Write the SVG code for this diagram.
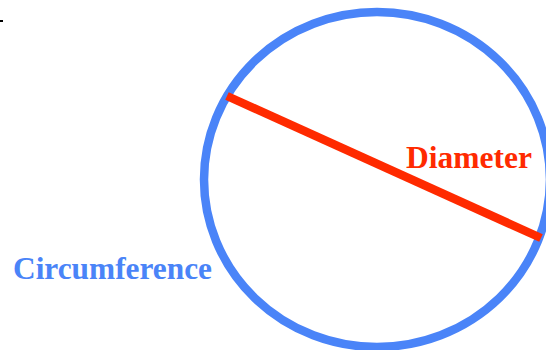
<svg xmlns="http://www.w3.org/2000/svg" width="546" height="350" viewBox="0 0 546 350">
<style>
.lbl{font-family:"Liberation Serif","Times New Roman",serif;font-weight:bold;font-size:31.5px}
</style>
<rect width="546" height="350" fill="#ffffff"/>
<rect x="0" y="20" width="3" height="2" fill="#000000"/>
<g id="circle">
<ellipse cx="377" cy="179.5" rx="173" ry="167.5" fill="none" stroke="#4a84f8" stroke-width="8.5"/>
</g>
<g id="connectors">
<line x1="227" y1="96" x2="541" y2="238" stroke="#ff2a00" stroke-width="8.5"/>
</g>
<g id="diameter-label">
<text class="lbl" x="406" y="168" fill="#ff2a00">Diameter</text>
</g>
<g id="circumference-label">
<text class="lbl" x="13" y="279" fill="#4a84f8" textLength="199" lengthAdjust="spacingAndGlyphs">Circumference</text>
</g>
</svg>
